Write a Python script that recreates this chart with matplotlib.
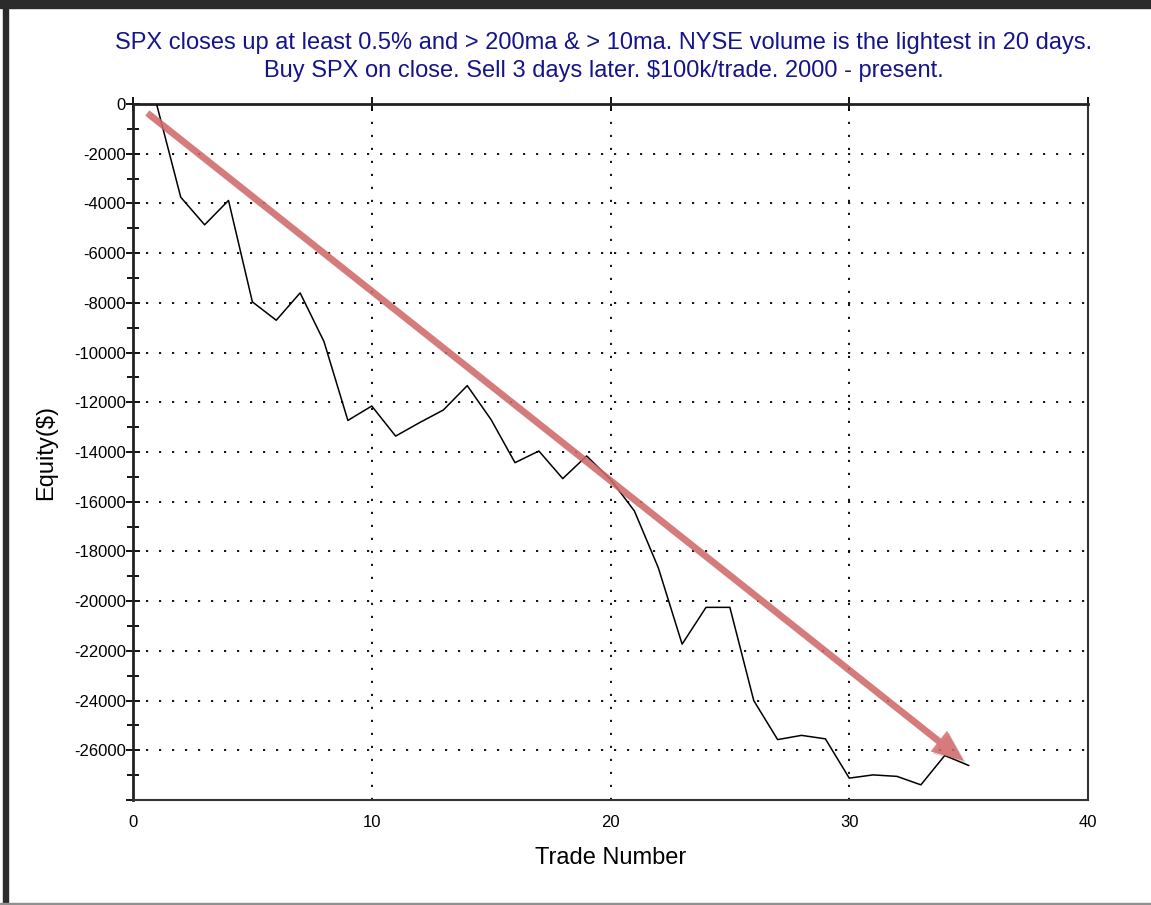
import matplotlib
matplotlib.use('Agg')
import matplotlib.pyplot as plt
from matplotlib.ticker import MultipleLocator
from matplotlib.patches import Rectangle
import matplotlib.patheffects as pe

plt.rcParams['font.family'] = ['Liberation Sans', 'DejaVu Sans']

# equity curve
trade_num = list(range(1, 36))
equity = [-50, -3750, -4860, -3880, -7960, -8700, -7600, -9560, -12730, -12150,
          -13360, -12820, -12310, -11330, -12700, -14430, -13960, -15070, -14160, -15100,
          -16370, -18650, -21730, -20250, -20250, -24000, -25570, -25400, -25540, -27120,
          -26990, -27050, -27390, -26210, -26610]

# trend arrow (start, end) in data units
arrow_start = (0.6, -360)
arrow_end = (34.8, -26430)

title = ("SPX closes up at least 0.5% and > 200ma & > 10ma. NYSE volume is the lightest in 20 days.\n"
         "Buy SPX on close. Sell 3 days later. $100k/trade. 2000 - present.")

W, H = 1151, 905
fig = plt.figure(figsize=(W / 100, H / 100), dpi=100)
fig.patch.set_facecolor('white')

# window-like border
fig.patches.append(Rectangle((0, 1 - 8 / H), 1, 8 / H, transform=fig.transFigure,
                             color='#2b2b2b', zorder=0))
fig.patches.append(Rectangle((3 / W, 0), 5 / W, 1, transform=fig.transFigure,
                             color='#2b2b2b', zorder=0))
fig.patches.append(Rectangle((0, 1 / H), 1, 1.5 / H, transform=fig.transFigure,
                             color='#909090', zorder=0))

ax = fig.add_axes([133 / W, 1 - 800 / H, (1088 - 133) / W, (800 - 104) / H])
ax.plot(trade_num, equity, color='black', lw=1.1, zorder=3)

ax.annotate('', xy=arrow_end, xytext=arrow_start,
            arrowprops=dict(arrowstyle='simple,head_length=1.15,head_width=0.95,tail_width=0.24',
                            mutation_scale=20, color='#d56b6b', lw=0, alpha=0.85,
                            shrinkA=0, shrinkB=0,
                            path_effects=[pe.SimplePatchShadow(offset=(1.5, -1.5), alpha=0.18),
                                          pe.Normal()]),
            zorder=4)

ax.set_xlim(0, 40)
ax.set_ylim(-28000, 0)
ax.xaxis.set_major_locator(MultipleLocator(10))
ax.yaxis.set_major_locator(MultipleLocator(2000))
ax.yaxis.set_minor_locator(MultipleLocator(1000))
ax.grid(True, which='major', color='black', linestyle=(0, (1.2, 6)), lw=1.3)

yt = list(range(0, -27000, -2000))
ax.set_yticks(yt + [-28000])
ax.set_yticklabels([str(v) for v in yt] + [''])

ax.tick_params(axis='y', which='both', direction='inout', length=10, width=1.3,
               labelsize=12, pad=0, left=True, right=False)
ax.tick_params(axis='y', which='minor', length=8)
ax.tick_params(axis='x', which='major', direction='inout', length=10, width=1.3,
               top=True, bottom=False, labelsize=12, pad=6)

for side in ['left', 'top']:
    ax.spines[side].set_linewidth(2)
    ax.spines[side].set_color('#222222')
for side in ['right', 'bottom']:
    ax.spines[side].set_linewidth(1.5)
    ax.spines[side].set_color('#333333')

ax.set_xlabel('Trade Number', fontsize=17, labelpad=12)
ax.set_ylabel('Equity($)', fontsize=17, labelpad=12)

fig.text(604 / W, 1 - 57 / H, title, ha='center', va='center', fontsize=17,
         color='#14148c', linespacing=1.4)

fig.savefig('out.png', dpi=100)
